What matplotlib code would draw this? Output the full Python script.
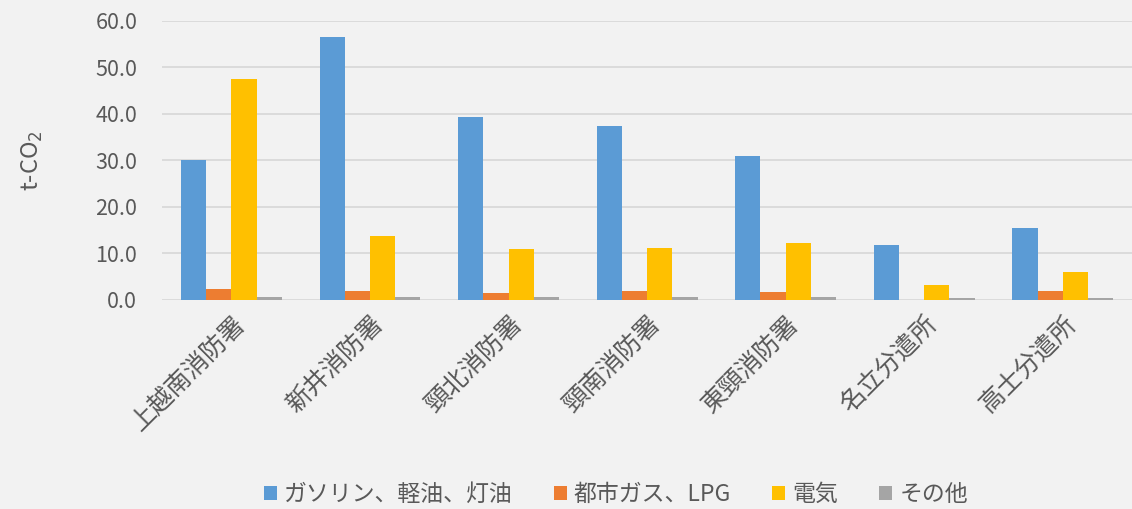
import matplotlib
matplotlib.use('Agg')
import matplotlib.pyplot as plt
import numpy as np

plt.rcParams['font.family'] = ['Noto Sans CJK JP', 'DejaVu Sans']

# データ
categories = ['上越南消防署', '新井消防署', '頸北消防署', '頸南消防署', '東頸消防署', '名立分遣所', '高士分遣所']
series_names = ['ガソリン、軽油、灯油', '都市ガス、LPG', '電気', 'その他']
gasoline = [30.1, 56.6, 39.3, 37.4, 31.0, 11.8, 15.5]
gas_lpg = [2.4, 1.9, 1.5, 1.9, 1.7, 0.0, 1.9]
electric = [47.5, 13.7, 10.9, 11.1, 12.2, 3.1, 6.0]
other = [0.65, 0.6, 0.5, 0.5, 0.5, 0.35, 0.3]
yticks = [0, 10, 20, 30, 40, 50, 60]

colors = ['#5b9bd5', '#ed7d31', '#ffc000', '#a5a5a5']
bg = '#f2f2f2'

fig = plt.figure(figsize=(11.32, 5.09), dpi=100, facecolor=bg)
ax = fig.add_axes([0.1433, 0.411, 0.8567, 0.548], facecolor=bg)

x = np.arange(len(categories))
w = 0.182
data = [gasoline, gas_lpg, electric, other]
for i, (vals, name) in enumerate(zip(data, series_names)):
    ax.bar(x + (i - 1.5) * w, vals, width=w, color=colors[i], label=name, zorder=3)

ax.set_xlim(-0.5, len(categories) - 0.5)
ax.set_ylim(0, 60)
ax.set_yticks(yticks)
ax.set_yticklabels([f'{v:.1f}' for v in yticks], fontsize=15.5, color='#595959')
ax.set_xticks(x)
ax.set_xticklabels(categories, rotation=45, ha='right', rotation_mode='anchor',
                   fontsize=18, color='#595959')
ax.tick_params(axis='both', length=0)
ax.tick_params(axis='y', pad=18)
ax.tick_params(axis='x', pad=8)
ax.grid(axis='y', color='#d9d9d9', linewidth=1.3, zorder=0)
for s in ax.spines.values():
    s.set_visible(False)

ax.set_ylabel('t-CO$_2$', fontsize=17, color='#595959')
ax.yaxis.set_label_coords(-0.121, 0.5)

fig.legend(loc='lower center', bbox_to_anchor=(0.544, -0.035), ncol=4, frameon=False,
           fontsize=16.5, handlelength=0.57, handleheight=0.57, handletextpad=0.3,
           columnspacing=1.8, labelcolor='#595959')

fig.savefig('out.png', dpi=100, facecolor=bg)
